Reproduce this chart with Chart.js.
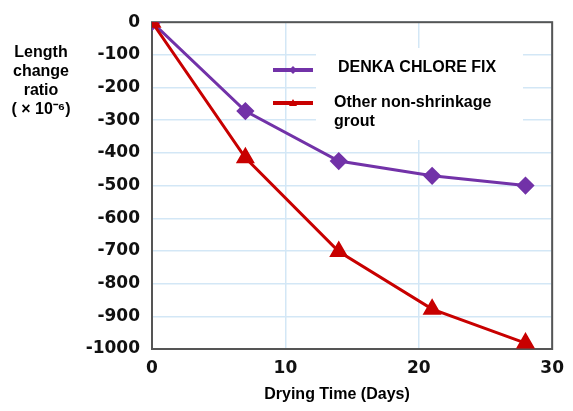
<!DOCTYPE html>
<html>
<head>
<meta charset="utf-8">
<script src="https://cdn.jsdelivr.net/npm/chart.js@4"></script>
<style>
  html, body { margin: 0; padding: 0; background: #fff; }
  #wrap { width: 573px; height: 411px; }
</style>
</head>
<body>
<div id="wrap"><canvas id="shrinkChart" width="573" height="411"></canvas></div>
<script>
const days = [0, 7, 14, 21, 28];
const denkaValues = [0, -272, -425, -470, -500];
const otherValues = [0, -415, -702, -878, -982];
const seriesLabels = ['DENKA CHLORE FIX', 'Other non-shrinkage grout'];
const xTicks = [0, 10, 20, 30];
const yTitle = ['Length', 'change', 'ratio', '( \u00d7 10\u207b\u2076)'];
const xTitle = 'Drying Time (Days)';

const PURPLE = '#7232a8';
const RED = '#c80000';

const toPoints = vals => vals.map((v, i) => ({ x: days[i], y: v }));

// plot frame + titles + legend box inside the plot
const decorations = {
    id: 'decorations',
    beforeDatasetsDraw(chart) {
        const { ctx, chartArea: a } = chart;
        ctx.save();
        ctx.strokeStyle = '#555';
        ctx.lineWidth = 2;
        ctx.strokeRect(a.left, a.top, a.right - a.left, a.bottom - a.top);
        ctx.restore();
    },
    afterDatasetsDraw(chart) {
        const { ctx } = chart;
        ctx.save();
        ctx.fillStyle = '#000';
        ctx.font = 'bold 16px "Liberation Sans", Arial, sans-serif';
        ctx.textAlign = 'center';
        ctx.textBaseline = 'middle';
        yTitle.forEach((line, i) => ctx.fillText(line, 41, 53 + i * 19));
        ctx.fillText(xTitle, 337, 395);

        // legend
        ctx.fillStyle = '#fff';
        ctx.fillRect(316, 48, 207, 92);
        const sets = chart.data.datasets;
        const rows = [70, 103];
        sets.forEach((ds, i) => {
            const y = rows[i];
            ctx.strokeStyle = ds.borderColor;
            ctx.lineWidth = 4;
            ctx.beginPath();
            ctx.moveTo(273, y);
            ctx.lineTo(313, y);
            ctx.stroke();
            ctx.fillStyle = ds.borderColor;
            ctx.beginPath();
            if (ds.pointStyle === 'triangle') {
                ctx.moveTo(293, y - 4);
                ctx.lineTo(297, y + 3);
                ctx.lineTo(289, y + 3);
            } else {
                ctx.moveTo(293, y - 4);
                ctx.lineTo(297, y);
                ctx.lineTo(293, y + 4);
                ctx.lineTo(289, y);
            }
            ctx.closePath();
            ctx.fill();
        });
        ctx.fillStyle = '#000';
        ctx.textAlign = 'left';
        ctx.fillText(sets[0].label, 338, 68);
        const parts = sets[1].label.split(' grout');
        ctx.fillText(parts[0], 334, 103);
        ctx.fillText('grout', 334, 122);
        ctx.restore();
    }
};

const tickFont = { family: '"DejaVu Sans", sans-serif', size: 17, weight: 'bold' };

const ctx = document.getElementById('shrinkChart').getContext('2d');
new Chart(ctx, {
    type: 'line',
    data: {
        datasets: [{
            label: seriesLabels[0],
            data: toPoints(denkaValues),
            borderColor: PURPLE,
            backgroundColor: PURPLE,
            borderWidth: 3,
            pointStyle: 'rectRot',
            pointRadius: 7,
            pointHoverRadius: 7,
            tension: 0,
            order: 2
        }, {
            label: seriesLabels[1],
            data: toPoints(otherValues),
            borderColor: RED,
            backgroundColor: RED,
            borderWidth: 3,
            pointStyle: 'triangle',
            pointRadius: 8,
            pointHoverRadius: 8,
            tension: 0,
            order: 1
        }]
    },
    options: {
        responsive: false,
        animation: false,
        events: [],
        layout: { padding: { left: 0, right: 20, top: 22, bottom: 0 } },
        plugins: {
            legend: { display: false },
            tooltip: { enabled: false }
        },
        scales: {
            x: {
                type: 'linear',
                min: 0,
                max: 30,
                afterFit: s => { s.height = 62; },
                afterBuildTicks: s => { s.ticks = xTicks.map(v => ({ value: v })); },
                grid: { color: '#d3e7f6', lineWidth: 1.5, drawTicks: false },
                border: { display: false },
                ticks: { padding: 9, color: '#111', font: tickFont }
            },
            y: {
                min: -1000,
                max: 0,
                afterFit: s => { s.width = 152; },
                grid: { color: '#d3e7f6', lineWidth: 1.5, drawTicks: false },
                border: { display: false },
                ticks: {
                    stepSize: 100,
                    padding: 12,
                    color: '#111',
                    font: tickFont,
                    callback: v => String(v)
                }
            }
        }
    },
    plugins: [decorations]
});
</script>
</body>
</html>
